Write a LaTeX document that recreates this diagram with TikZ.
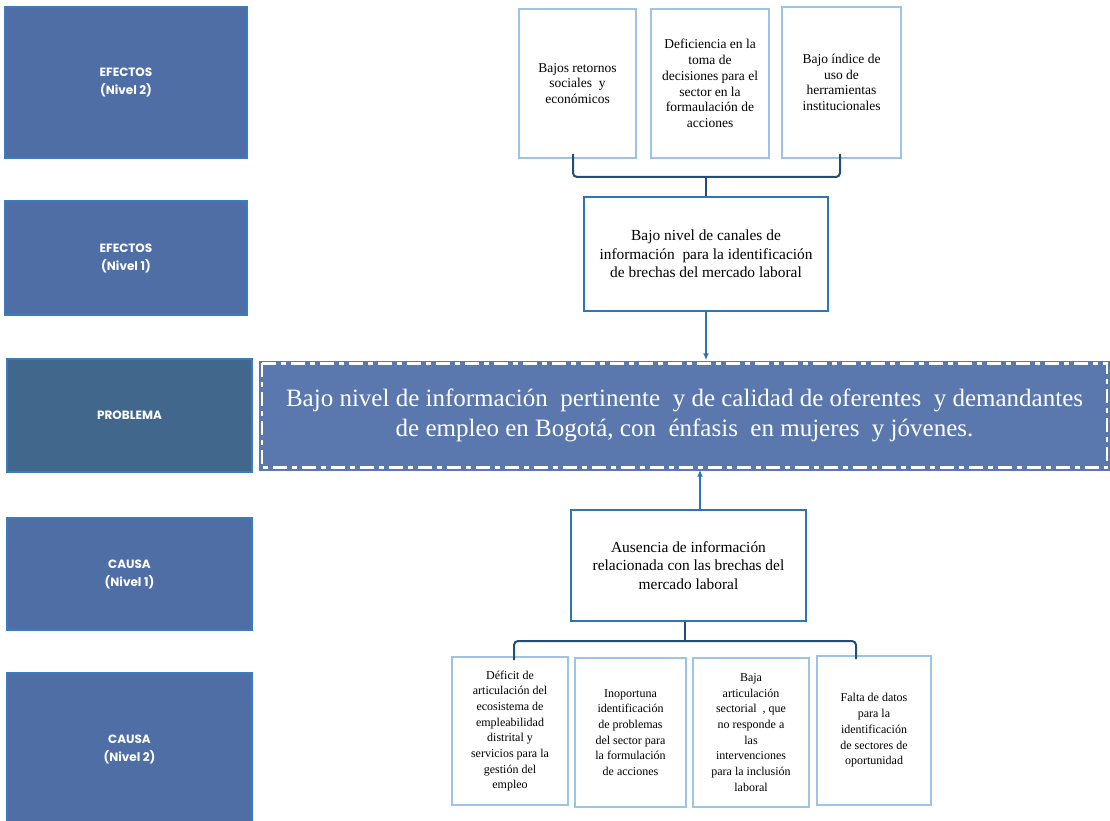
\documentclass[tikz,border=0pt]{standalone}
\usepackage{fontspec}
\setmainfont{Liberation Serif}
\newfontfamily\lblfont{Poppins}
\definecolor{leftfill}{HTML}{4E6EA5}
\definecolor{leftdraw}{HTML}{3A7CC0}
\definecolor{probfill}{HTML}{41678C}
\definecolor{mainfill}{HTML}{5A78AD}
\definecolor{lightb}{HTML}{9DC3E6}
\definecolor{midb}{HTML}{2E75B6}
\definecolor{braceb}{HTML}{1F4E79}
\tikzset{
  lbl/.style={draw=leftdraw, line width=1.2pt, fill=leftfill, text=white, inner sep=0pt, align=center,
    font=\lblfont\bfseries\fontsize{12}{18}\selectfont},
  smallbox/.style={draw=lightb, line width=2pt, fill=white, inner sep=0pt, align=center,
    font=\fontsize{12}{15.7}\selectfont},
  topbox/.style={smallbox, font=\fontsize{13.5}{15.7}\selectfont},
  midbox/.style={draw=midb, line width=2pt, fill=white, inner sep=0pt, align=center,
    font=\fontsize{15.4}{18.5}\selectfont},
  bracel/.style={draw=braceb, line width=2pt, rounded corners=4pt},
  arr/.style={draw=midb, line width=1.5pt, -{Latex[length=7pt,width=6pt]}},
}
\usetikzlibrary{arrows.meta}
\begin{document}
\begin{tikzpicture}[x=1pt,y=-1pt]
\useasboundingbox (0,0) rectangle (1110,821);
% left column
\node[lbl, minimum width=242, minimum height=151] (e2) at (126,82.5) {EFECTOS\\(Nivel 2)};
\node[lbl, minimum width=242, minimum height=114] (e1) at (126,258) {EFECTOS\\(Nivel 1)};
\node[lbl, fill=probfill, minimum width=245, minimum height=113] (pl) at (129.5,415.5) {PROBLEMA};
\node[lbl, minimum width=245, minimum height=112] (c1) at (129.5,574) {CAUSA\\(Nivel 1)};
\node[lbl, minimum width=245, minimum height=152] (c2) at (129.5,749) {CAUSA\\(Nivel 2)};
% top effects
\node[topbox, minimum width=117, minimum height=149] (t1) at (577.5,83.5) {Bajos retornos\\sociales \ y\\económicos};
\node[topbox, minimum width=118, minimum height=149] (t2) at (710,83.5) {Deficiencia en la\\toma de\\decisiones para el\\sector en la\\formaulación de\\acciones};
\node[topbox, minimum width=119, minimum height=151] (t3) at (841.5,82.5) {Bajo índice de\\uso de\\herramientas\\institucionales};
% level 1 effect
\node[midbox, minimum width=244, minimum height=114] (n1) at (706,254) {Bajo nivel de canales de\\información \ para la identificación\\de brechas del mercado laboral};
% problem
\node[fill=mainfill, minimum width=851, minimum height=110, inner sep=0pt, text=white, align=center,
  font=\fontsize{25}{30}\selectfont] (pb) at (684.5,415.5)
  {Bajo nivel de información \ pertinente \ y de calidad de oferentes \ y demandantes\\de empleo en Bogotá, con \ énfasis \ en mujeres \ y jóvenes.};
\draw[white, line width=2.5pt, dash pattern=on 14pt off 5pt on 5pt off 5pt]
  ([xshift=3pt,yshift=-3pt]pb.north west) rectangle ([xshift=-3pt,yshift=3pt]pb.south east);
% cause level 1
\node[midbox, minimum width=235, minimum height=111] (k1) at (688.5,565.5) {Ausencia de información\\relacionada con las brechas del\\mercado laboral};
% bottom causes
\node[smallbox, minimum width=116, minimum height=148] (b1) at (510,731) {Déficit de\\articulación del\\ecosistema de\\empleabilidad\\distrital y\\servicios para la\\gestión del\\empleo};
\node[smallbox, minimum width=111, minimum height=149] (b2) at (630.5,732.5) {Inoportuna\\identificación\\de problemas\\del sector para\\la formulación\\de acciones};
\node[smallbox, minimum width=116, minimum height=149] (b3) at (751,732.5) {Baja\\articulación\\sectorial \ , que\\no responde a\\las\\intervenciones\\para la inclusión\\laboral};
\node[smallbox, minimum width=114, minimum height=149] (b4) at (874,730.5) {Falta de datos\\para la\\identificación\\de sectores de\\oportunidad};
% upper brace
\coordinate (ua) at (t1.south -| 573,0);
\coordinate (ub) at (t3.south -| 840,0);
\coordinate (um) at (n1.north);
\draw[bracel] ([yshift=5pt]ua) -- (573,177) -- (840,177) -- ([yshift=5pt]ub);
\draw[braceb, line width=2pt] (um) -- (um |- 0,177);
% arrows to problem
\draw[arr] (n1.south) -- (pb.north -| n1.south);
\draw[arr] (k1.north -| 700,0) -- ([yshift=1pt]pb.south -| 700,0);
% lower brace
\coordinate (la) at (b1.north -| 514,0);
\coordinate (lb) at (b4.north -| 856,0);
\coordinate (lm) at (k1.south -| 685,0);
\draw[bracel] ([yshift=-4pt]la) -- (514,641) -- (856,641) -- ([yshift=-4pt]lb);
\draw[braceb, line width=2pt] (lm) -- (lm |- 0,641);
\end{tikzpicture}
\end{document}
